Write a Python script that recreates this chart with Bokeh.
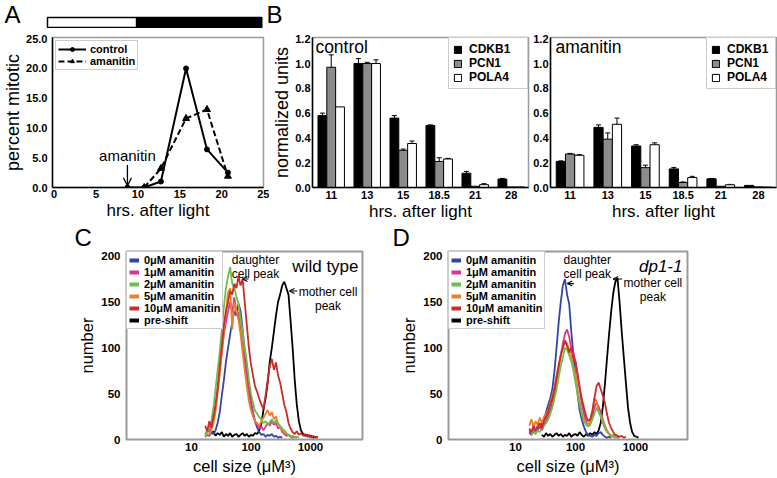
from bokeh.plotting import figure
from bokeh.layouts import row, column
from bokeh.models import (Range1d, FixedTicker, PrintfTickFormatter, Legend, LegendItem,
                          Label, Arrow, OpenHead, Whisker, TeeHead, ColumnDataSource)
from bokeh.embed import file_html
from bokeh.resources import INLINE

N = float("nan")
FONT = "Liberation Sans"

# ---------------- Panel A data ----------------
HOURS_CTRL = [8.75, 10.75, 12.75, 15.75, 18.25, 20.75]
MITOTIC_CTRL = [0.0, 0.0, 1.0, 20.0, 6.4, 2.5]
HOURS_AMA = [10.75, 12.75, 15.75, 18.25, 20.75]
MITOTIC_AMA = [0.0, 3.2, 11.6, 13.1, 1.9]
AMANITIN_ADDED = 8.75
LD_START = [-0.2, 10.2]
LD_END = [10.2, 24.8]
LD_COLORS = ["white", "black"]
A_TICKS_X = [0, 5, 10, 15, 20, 25]
A_TICKS_Y = [0, 5, 10, 15, 20, 25]

# ---------------- Panel B data ----------------
TIMES = ["11", "13", "15", "18.5", "21", "28"]
GENES = ["CDKB1", "PCN1", "POLA4"]
GENE_COLORS = ["black", "#8c8c8c", "white"]
CTRL_CDKB1 = [0.58, 1.00, 0.56, 0.50, 0.115, 0.068]
CTRL_PCN1 = [0.97, 1.00, 0.30, 0.21, 0.010, 0.004]
CTRL_POLA4 = [0.65, 1.00, 0.355, 0.23, 0.023, 0.004]
CTRL_CDKB1_ERR = [0.02, 0.04, 0.02, 0.005, 0.015, 0.005]
CTRL_PCN1_ERR = [0.10, 0.01, 0.01, 0.03, 0.0, 0.0]
CTRL_POLA4_ERR = [0.0, 0.03, 0.02, 0.005, 0.008, 0.0]
AMA_CDKB1 = [0.21, 0.485, 0.335, 0.15, 0.07, 0.017]
AMA_PCN1 = [0.27, 0.39, 0.16, 0.04, 0.01, 0.005]
AMA_POLA4 = [0.26, 0.51, 0.345, 0.08, 0.022, 0.003]
AMA_CDKB1_ERR = [0.005, 0.02, 0.01, 0.012, 0.003, 0.0]
AMA_PCN1_ERR = [0.005, 0.05, 0.02, 0.005, 0.0, 0.0]
AMA_POLA4_ERR = [0.005, 0.05, 0.015, 0.01, 0.003, 0.0]
B_TICKS_Y = [0.0, 0.2, 0.4, 0.6, 0.8, 1.0, 1.2]

# ---------------- Panels C / D data (cell size histograms) ----------------
SIZE_BINS = [
    17.0, 18.4, 20.0, 21.6, 23.4, 25.4, 27.5, 29.9,
    32.4, 35.1, 38.0, 41.2, 44.7, 48.4, 52.5, 56.9,
    61.7, 66.8, 72.4, 78.5, 85.1, 92.3, 100, 108,
    117, 127, 138, 150, 162, 176, 191, 207,
    224, 243, 263, 285, 309, 335, 363, 394,
    427, 462, 501, 543, 589, 638, 692, 750,
    813, 881, 955, 1035, 1122, 1216, 1318, 1429]
SERIES = ["0\u03bcM amanitin", "1\u03bcM amanitin", "2\u03bcM amanitin",
          "5\u03bcM amanitin", "10\u03bcM amanitin", "pre-shift"]
SERIES_COLORS = ["#3145a6", "#d9378f", "#6cbf48", "#ef7e25", "#cc2b2b", "black"]

C_BLUE = [3, 5, 4, 8, 6, 10, 18, 30,
          48, 65, 85, 100, 115, 128, 140, 135,
          148, 140, 120, 96, 78, 57, 42, 30,
          20, 13, 8, 5, 6, 3, 5, 4,
          6, 3, 4, 2, 3, 2, N, N,
          N, N, N, N, N, N, N, N,
          N, N, N, N, N, N, N, N]
C_MAGENTA = [5, 10, 8, 15, 22, 35, 55, 75,
             95, 115, 128, 140, 150, 138, 155, 140,
             138, 120, 100, 85, 68, 50, 38, 28,
             20, 16, 12, 14, 10, 14, 18, 15,
             20, 16, 18, 12, 14, 8, 6, 4,
             5, 3, 2, 3, 2, N, N, N,
             N, N, N, N, N, N, N, N]
C_GREEN = [4, 8, 12, 20, 35, 55, 75, 96,
           120, 145, 165, 178, 188, 170, 165, 156,
           148, 131, 118, 100, 85, 65, 50, 40,
           31, 28, 24, 22, 18, 20, 16, 19,
           22, 18, 21, 17, 15, 12, 10, 7,
           5, 4, 3, 2, 3, 2, N, N,
           N, N, N, N, N, N, N, N]
C_ORANGE = [3, 6, 5, 10, 18, 30, 50, 72,
            95, 118, 140, 160, 165, 120, 150, 140,
            130, 115, 95, 75, 58, 42, 32, 25,
            20, 18, 15, 20, 24, 28, 32, 26,
            30, 22, 25, 18, 14, 10, 8, 6,
            5, 3, 4, 2, N, N, N, N,
            N, N, N, N, N, N, N, N]
C_RED = [15, 9, 20, 13, 24, 38, 55, 80,
         102, 125, 140, 150, 162, 158, 170, 165,
         178, 168, 175, 150, 125, 100, 82, 70,
         58, 52, 44, 38, 33, 48, 65, 80,
         88, 76, 84, 70, 62, 50, 38, 30,
         18, 12, 8, 6, 9, 5, 7, 4,
         6, 3, 5, 2, 4, 2, 3, N]
C_BLACK = [N, N, N, 6, 9, 4, 7, 5,
           8, 3, 6, 4, 7, 3, 5, 6,
           3, 5, 7, 4, 6, 3, 5, 4,
           7, 6, 10, 18, 32, 45, 62, 85,
           100, 118, 135, 150, 158, 168, 172, 165,
           158, 130, 100, 65, 38, 20, 10, 6,
           4, 5, 3, 4, 2, 3, 2, N]

D_BLUE = [8, 5, 12, 9, 15, 12, 18, 22,
          30, 38, 45, 55, 75, 100, 128, 150,
          168, 175, 158, 148, 118, 92, 70, 50,
          32, 22, 14, 8, 5, 4, 3, 5,
          4, 7, 8, 5, 3, 2, 3, 2,
          N, N, N, N, N, N, N, N,
          N, N, N, N, N, N, N, N]
D_MAGENTA = [10, 6, 12, 8, 10, 14, 10, 16,
             20, 26, 32, 40, 50, 62, 78, 92,
             105, 115, 120, 112, 100, 95, 85, 70,
             55, 40, 28, 20, 15, 18, 25, 35,
             40, 36, 30, 22, 15, 10, 6, 4,
             3, 5, 2, 3, N, N, N, N,
             N, N, N, N, N, N, N, N]
D_GREEN = [N, 5, 8, 6, 10, 8, 12, 15,
           18, 22, 28, 35, 45, 55, 68, 80,
           90, 100, 98, 92, 85, 75, 62, 50,
           38, 28, 20, 16, 14, 16, 22, 28,
           35, 30, 26, 20, 14, 9, 6, 4,
           3, 2, 3, N, N, N, N, N,
           N, N, N, N, N, N, N, N]
D_ORANGE = [15, 22, 14, 20, 16, 24, 18, 25,
            28, 32, 40, 48, 58, 70, 82, 92,
            100, 108, 105, 98, 90, 80, 70, 55,
            42, 30, 22, 18, 15, 20, 32, 45,
            42, 30, 25, 18, 12, 8, 6, 4,
            5, 3, 4, 2, N, N, N, N,
            N, N, N, N, N, N, N, N]
D_RED = [12, 8, 15, 10, 13, 18, 12, 20,
         25, 30, 38, 45, 55, 68, 80, 92,
         100, 108, 102, 95, 100, 88, 85, 72,
         58, 45, 35, 26, 20, 22, 30, 45,
         58, 62, 55, 48, 40, 28, 18, 12,
         8, 5, 4, 3, 4, 2, 3, N,
         N, N, N, N, N, N, N, N]
D_BLACK = [N, N, N, N, N, N, 5, 3,
           7, 4, 6, 3, 5, 7, 4, 6,
           3, 5, 4, 7, 3, 5, 6, 4,
           8, 5, 3, 6, 4, 7, 5, 8,
           6, 10, 18, 35, 60, 88, 115, 140,
           160, 172, 176, 150, 118, 90, 62, 35,
           18, 8, 4, 3, 2, N, N, N]
HIST_TICKS_X = [10, 100, 1000]
HIST_TICKS_Y = [0, 50, 100, 150, 200]

GRAY = "#9a9a9a"


def base_fig(w, h, l, r, t, b, xr, yr, label_size="17px", **kw):
    p = figure(width=w, height=h, min_border_left=l, min_border_right=r,
               min_border_top=t, min_border_bottom=b, x_range=xr, y_range=yr,
               output_backend="svg", toolbar_location=None, **kw)
    p.xgrid.visible = False
    p.ygrid.visible = False
    p.outline_line_color = GRAY
    p.outline_line_width = 1.5
    p.background_fill_color = "white"
    p.border_fill_color = "white"
    for ax in p.axis:
        ax.major_tick_line_color = None
        ax.minor_tick_line_color = None
        ax.major_tick_out = 0
        ax.major_tick_in = 0
        ax.minor_tick_out = 0
        ax.minor_tick_in = 0
        ax.major_label_text_font = FONT
        ax.major_label_text_font_style = "bold"
        ax.major_label_text_font_size = "11px"
        ax.major_label_text_color = "black"
        ax.axis_label_text_font = FONT
        ax.axis_label_text_font_style = "normal"
        ax.axis_label_text_font_size = label_size
        ax.axis_label_text_color = "black"
        ax.axis_line_color = "black"
        ax.axis_line_width = 1.5
    return p


def canvas_fig(w, h, xr, yr, **kw):
    p = figure(width=w, height=h, x_range=xr, y_range=yr, min_border=0,
               min_border_left=0, min_border_right=0, min_border_top=0,
               min_border_bottom=0, x_axis_location=None, y_axis_location=None,
               output_backend="svg", toolbar_location=None, **kw)
    p.xgrid.visible = False
    p.ygrid.visible = False
    p.outline_line_color = None
    p.background_fill_color = "white"
    p.border_fill_color = "white"
    return p


def add_text(p, x, y, text, size, align="left", baseline="middle", style="normal",
             line_height=1.2):
    p.add_layout(Label(x=x, y=y, text=text, text_font=FONT, text_font_size=size,
                       text_align=align, text_baseline=baseline,
                       text_font_style=style, text_color="black",
                       text_line_height=line_height))


def add_arrow(p, xs, ys, xe, ye, size=6, lw=1.2):
    p.add_layout(Arrow(end=OpenHead(size=size, line_width=lw, line_color="black"),
                       x_start=xs, y_start=ys, x_end=xe, y_end=ye,
                       line_width=lw, line_color="black"))


def legend_style(lg, font="11px"):
    lg.label_text_font = FONT
    lg.label_text_font_size = font
    lg.label_text_font_style = "bold"
    lg.label_text_color = "black"
    lg.border_line_color = GRAY
    lg.border_line_width = 1.5
    lg.background_fill_color = "white"
    lg.background_fill_alpha = 1.0
    lg.spacing = 0


# ---------------- header: letters A, B and the light/dark bar ----------------
header = canvas_fig(777, 28, Range1d(0, 777), Range1d(-0.1, 2.7),
                    extra_x_ranges={"hours": Range1d(-5.683, 84.97)})
header.quad(left=LD_START, right=LD_END, bottom=0, top=1, fill_color=LD_COLORS,
            line_color="black", line_width=1.5, x_range_name="hours")
add_text(header, 4, 1.35, "A", "24px")
add_text(header, 266, 1.35, "B", "24px")

# ---------------- Panel A ----------------
pA = base_fig(269, 195, 47, 6, 9, 34, Range1d(-0.2, 25), Range1d(0, 25.2))
pA.xaxis.ticker = FixedTicker(ticks=A_TICKS_X)
pA.yaxis.ticker = FixedTicker(ticks=A_TICKS_Y)
pA.yaxis.formatter = PrintfTickFormatter(format="%.1f")
pA.xaxis.axis_label = "hrs. after light"
pA.yaxis.axis_label = "percent mitotic"
pA.yaxis.axis_label_text_font_size = "18px"
pA.yaxis.major_label_standoff = 5
pA.yaxis.axis_label_standoff = 0
pA.xaxis.major_label_standoff = 2
pA.xaxis.axis_label_standoff = 0
lc = pA.line(HOURS_CTRL, MITOTIC_CTRL, line_color="black", line_width=2)
sc = pA.scatter(HOURS_CTRL, MITOTIC_CTRL, marker="circle", size=5, color="black")
la = pA.line(HOURS_AMA, MITOTIC_AMA, line_color="black", line_width=2, line_dash="6 3")
sa = pA.scatter(HOURS_AMA, MITOTIC_AMA, marker="triangle", size=7, color="black")
lgA = Legend(items=[LegendItem(label="control", renderers=[lc, sc]),
                    LegendItem(label="amanitin", renderers=[la, sa])],
             location="top_left")
legend_style(lgA)
lgA.margin = 3
lgA.padding = 2
lgA.glyph_width = 28
lgA.glyph_height = 10
lgA.label_height = 10
lgA.label_standoff = 4
pA.add_layout(lgA)
add_text(pA, AMANITIN_ADDED, 5.4, "amanitin", "15px", align="center")
add_arrow(pA, AMANITIN_ADDED, 3.8, AMANITIN_ADDED, 0.3, size=8, lw=1.3)


# ---------------- Panel B ----------------
def bar_panel(w, l, r, series, errors, title, ylabel, legend_label_width):
    p = base_fig(w, 195, l, r, 1, 34, Range1d(-0.52, 5.48), Range1d(0, 1.21))
    p.xaxis.ticker = FixedTicker(ticks=list(range(len(TIMES))))
    p.xaxis.major_label_overrides = {i: t for i, t in enumerate(TIMES)}
    p.xaxis.major_label_standoff = 3
    p.xaxis.axis_label_standoff = 0
    p.xaxis.axis_label = "hrs. after light"
    p.yaxis.ticker = FixedTicker(ticks=B_TICKS_Y)
    p.yaxis.formatter = PrintfTickFormatter(format="%.1f")
    p.yaxis.major_label_standoff = 2
    p.yaxis.axis_label_standoff = 0
    p.yaxis.axis_label_text_font_size = "18px"
    if ylabel:
        p.yaxis.axis_label = ylabel
    offsets = [-0.245, 0.0, 0.245]
    items = []
    for gene, color, vals, errs, off in zip(GENES, GENE_COLORS, series, errors, offsets):
        xs = [i + off for i in range(len(TIMES))]
        r_ = p.vbar(x=xs, top=vals, width=0.245, fill_color=color,
                    line_color="black", line_width=1)
        items.append(LegendItem(label=gene, renderers=[r_]))
        wx = [x for x, e in zip(xs, errs) if e > 0]
        wu = [v + e for v, e in zip(vals, errs) if e > 0]
        wl = [v - e for v, e in zip(vals, errs) if e > 0]
        src = ColumnDataSource(dict(x=wx, upper=wu, lower=wl))
        p.add_layout(Whisker(source=src, base="x", upper="upper", lower="lower",
                             dimension="height", line_width=1, line_color="black",
                             upper_head=TeeHead(size=5, line_width=1),
                             lower_head=TeeHead(size=5, line_width=1)))
    lg = Legend(items=items, location="top_right")
    legend_style(lg, "12px")
    lg.margin = 0
    lg.padding = 4
    lg.glyph_width = 9
    lg.glyph_height = 9
    lg.label_height = 10
    lg.label_standoff = 7
    lg.label_width = legend_label_width
    p.add_layout(lg)
    add_text(p, -0.44 if ylabel else -0.39, 1.134, title, "17.5px")
    return p


pBc = bar_panel(261, 38, 2, [CTRL_CDKB1, CTRL_PCN1, CTRL_POLA4],
                [CTRL_CDKB1_ERR, CTRL_PCN1_ERR, CTRL_POLA4_ERR], "control",
                "normalized units", 54)
pBa = bar_panel(247, 20, 1, [AMA_CDKB1, AMA_PCN1, AMA_POLA4],
                [AMA_CDKB1_ERR, AMA_PCN1_ERR, AMA_POLA4_ERR], "amanitin", None, 44)

# ---------------- middle header: letters C, D ----------------
mid = canvas_fig(777, 27, Range1d(0, 777), Range1d(0, 27))
add_text(mid, 74, 13.5, "C", "24px")
add_text(mid, 392, 13.5, "D", "24px")


# ---------------- Panels C / D ----------------
def hist_panel(w, l, r, xr, curves, strain, strain_x, italic):
    p = base_fig(w, 228, l, r, 1, 39, xr, Range1d(0, 205), label_size="16.5px",
                 x_axis_type="log")
    p.outline_line_width = 2
    for ax in p.axis:
        ax.axis_line_color = None
    p.xaxis.ticker = FixedTicker(ticks=HIST_TICKS_X)
    p.xaxis.formatter = PrintfTickFormatter(format="%d")
    p.yaxis.ticker = FixedTicker(ticks=HIST_TICKS_Y)
    p.xaxis.axis_label = "cell size (\u03bcM\u00b3)"
    p.yaxis.axis_label = "number"
    p.yaxis.major_label_text_font_size = "11.5px"
    p.xaxis.major_label_text_font_size = "11.5px"
    p.yaxis.major_label_standoff = 6
    p.yaxis.axis_label_standoff = 2
    p.xaxis.major_label_standoff = 3
    p.xaxis.axis_label_standoff = 3
    order = [5, 0, 1, 3, 2, 4]
    for idx in order:
        p.line(SIZE_BINS, curves[idx], line_color=SERIES_COLORS[idx], line_width=1.8)
    items = []
    for name, color in zip(SERIES, SERIES_COLORS):
        # legend proxy: no visible data, only a thick legend swatch
        dr = p.line(x=SIZE_BINS[:2], y=[N, N], line_color=color, line_width=4)
        items.append(LegendItem(label=name, renderers=[dr]))
    lg = Legend(items=items, location="top_left")
    legend_style(lg, "11px")
    lg.margin = 0
    lg.padding = 2
    lg.glyph_width = 10
    lg.glyph_height = 10
    lg.label_height = 11
    lg.label_standoff = 5
    p.add_layout(lg)
    add_text(p, strain_x, 199, strain, "17px", align="right", baseline="top",
             style="italic" if italic else "normal")
    return p


pC = hist_panel(390, 126, 28, Range1d(0.81, 7480),
                [C_BLUE, C_MAGENTA, C_GREEN, C_ORANGE, C_RED, C_BLACK],
                "wild type", 6410, False)
add_text(pC, 119, 203, "daughter\ncell peak", "12px", align="center", baseline="top",
         line_height=1.0)
add_arrow(pC, 91, 175, 72, 175, size=5, lw=1.1)
add_text(pC, 1968, 169, "mother cell\npeak", "12px", align="center", baseline="top",
         line_height=1.0)
add_arrow(pC, 603, 162, 443, 162, size=5, lw=1.1)

pD = hist_panel(387, 58, 90, Range1d(0.765, 7360),
                [D_BLUE, D_MAGENTA, D_GREEN, D_ORANGE, D_RED, D_BLACK],
                "dp1-1", 6070, True)
add_text(pD, 157, 203, "daughter\ncell peak", "12px", align="center", baseline="top",
         line_height=1.0)
add_arrow(pD, 94, 170, 73, 170, size=5, lw=1.1)
add_text(pD, 1950, 178, "mother cell\npeak", "12px", align="center", baseline="top",
         line_height=1.0)
add_arrow(pD, 600, 175, 425, 175, size=5, lw=1.1)

layout = column(header, row(pA, pBc, pBa), mid, row(pC, pD))

open("out.html", "w").write(file_html(layout, INLINE))
